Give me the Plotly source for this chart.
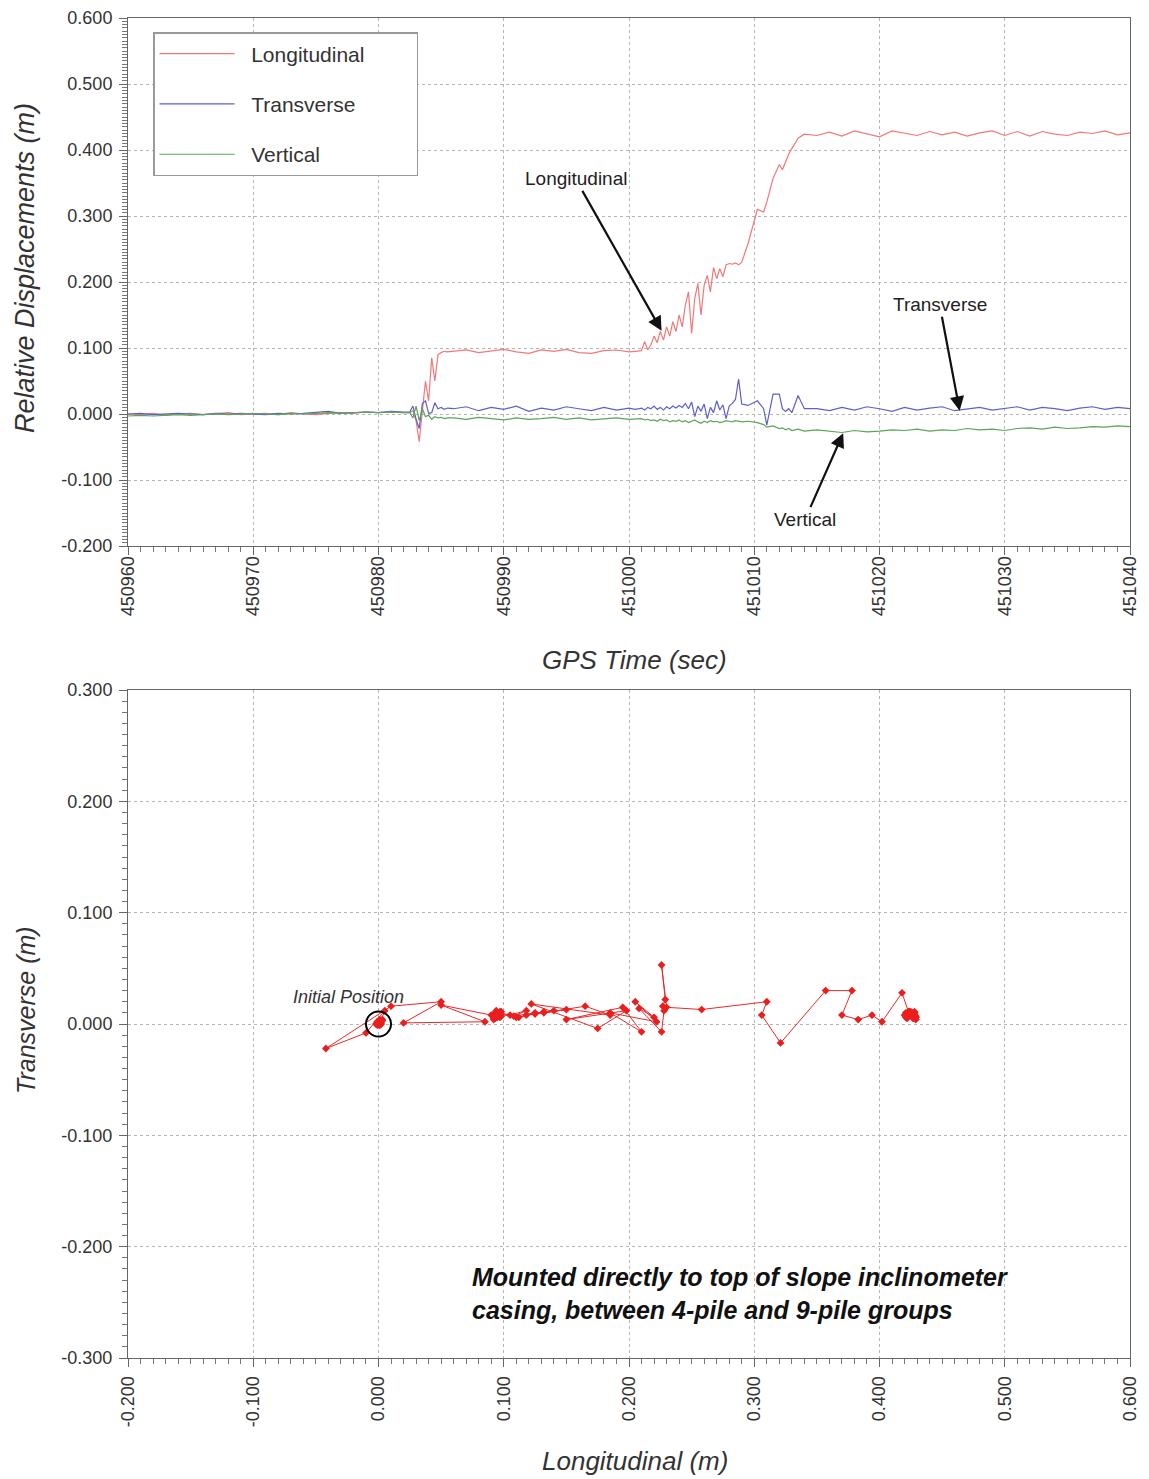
import plotly.graph_objects as go

# ---------------- data ----------------
gps_time = [
    450960, 450961, 450962, 450963, 450964, 450965, 450966, 450967, 450968, 450969,
    450970, 450971, 450972, 450973, 450974, 450975, 450976, 450977, 450978, 450979,
    450980, 450981, 450982,
    450982.5, 450982.75, 450983, 450983.25, 450983.5, 450983.75, 450984, 450984.25,
    450984.5, 450984.75, 450985, 450985.25, 450985.5,
    450986, 450987, 450988, 450989, 450990, 450991, 450992, 450993, 450994, 450995,
    450996, 450997, 450998, 450999, 451000,
    451000.5, 451001, 451001.25, 451001.5, 451001.75, 451002, 451002.25, 451002.5,
    451002.75, 451003, 451003.25, 451003.5, 451003.75, 451004, 451004.25, 451004.5,
    451004.75, 451005, 451005.25, 451005.5, 451005.75, 451006, 451006.25, 451006.5,
    451006.75, 451007, 451007.25, 451007.5, 451007.75, 451008, 451008.25, 451008.5,
    451008.75, 451009,
    451009.5, 451010.25, 451010.75, 451011, 451011.5, 451012, 451012.25, 451012.5,
    451012.75, 451013, 451013.5, 451014,
    451015, 451016, 451017, 451018, 451019, 451020, 451021, 451022, 451023, 451024,
    451025, 451026, 451027, 451028, 451029, 451030, 451031, 451032, 451033, 451034,
    451035, 451036, 451037, 451038, 451039, 451040,
]

longitudinal = [
    0.000, -0.001, 0.001, -0.002, 0.000, 0.001, -0.001, 0.000, 0.002, -0.001,
    0.000, 0.001, -0.001, 0.002, 0.000, -0.001, 0.001, 0.002, 0.001, 0.003,
    0.002, 0.003, 0.002,
    0.002, 0.005, -0.010, -0.042, 0.010, 0.050, 0.020, 0.085,
    0.050, 0.090, 0.093, 0.095, 0.094,
    0.095, 0.097, 0.093, 0.096, 0.098, 0.094, 0.092, 0.097, 0.095, 0.098,
    0.093, 0.092, 0.096, 0.097, 0.094,
    0.095, 0.096, 0.110, 0.097, 0.105, 0.118, 0.108, 0.125,
    0.112, 0.132, 0.118, 0.140, 0.125, 0.150, 0.132, 0.165,
    0.185, 0.122, 0.175, 0.198, 0.150, 0.195, 0.210, 0.185,
    0.222, 0.205, 0.220, 0.208, 0.226, 0.228, 0.227, 0.229,
    0.226, 0.230,
    0.258, 0.310, 0.306, 0.321, 0.357, 0.378, 0.370, 0.383,
    0.394, 0.402, 0.418, 0.424,
    0.422, 0.427, 0.421, 0.429, 0.424, 0.420, 0.429, 0.425, 0.422, 0.428,
    0.423, 0.427, 0.421, 0.426, 0.429, 0.422, 0.428, 0.421, 0.428, 0.424,
    0.422, 0.427, 0.425, 0.429, 0.423, 0.426,
]

transverse = [
    0.000, 0.001, -0.001, 0.000, 0.001, 0.000, -0.001, 0.001, 0.000, 0.001,
    0.000, -0.001, 0.001, 0.000, 0.001, 0.002, 0.004, 0.001, 0.002, 0.003,
    0.002, 0.004, 0.003,
    0.003, 0.012, -0.008, -0.022, 0.016, 0.020, 0.001, 0.002,
    0.017, 0.008, 0.010, 0.007, 0.009,
    0.008, 0.011, 0.005, 0.010, 0.007, 0.012, 0.004, 0.009, 0.006, 0.011,
    0.008, 0.005, 0.010, 0.006, 0.009,
    0.007, 0.009, 0.006, 0.010, 0.008, 0.012, 0.007, 0.010,
    0.006, 0.011, 0.008, 0.012, 0.009, 0.013, 0.010, 0.016,
    0.008, 0.018, -0.004, 0.012, 0.004, 0.015, -0.007, 0.010,
    0.002, 0.020, 0.006, 0.014, -0.007, 0.012, 0.016, 0.022,
    0.053, 0.015,
    0.013, 0.020, 0.008, -0.017, 0.030, 0.030, 0.008, 0.004,
    0.008, 0.002, 0.028, 0.008,
    0.008, 0.005, 0.010, 0.006, 0.011, 0.008, 0.004, 0.010, 0.006, 0.009,
    0.011, 0.005, 0.008, 0.010, 0.006, 0.009, 0.011, 0.006, 0.010, 0.008,
    0.005, 0.009, 0.011, 0.007, 0.010, 0.008,
]

vertical = [
    -0.003, -0.002, -0.003, -0.002, -0.001, -0.002, -0.001, 0.000, -0.001, 0.000,
    0.001, 0.000, -0.001, 0.001, 0.000, 0.001, 0.002, 0.001, 0.002, 0.003,
    0.002, 0.003, 0.002,
    0.002, -0.006, 0.012, -0.010, 0.008, -0.004, -0.002, -0.008,
    -0.004, -0.006, -0.005, -0.007, -0.006,
    -0.006, -0.008, -0.005, -0.007, -0.009, -0.006, -0.008, -0.007, -0.005, -0.008,
    -0.006, -0.009, -0.007, -0.006, -0.008,
    -0.008, -0.007, -0.009, -0.008, -0.010, -0.009, -0.011, -0.008,
    -0.010, -0.009, -0.012, -0.010, -0.011, -0.009, -0.012, -0.010,
    -0.013, -0.011, -0.009, -0.012, -0.014, -0.011, -0.013, -0.010,
    -0.012, -0.011, -0.013, -0.012, -0.010, -0.011, -0.012, -0.010,
    -0.011, -0.012,
    -0.011, -0.013, -0.016, -0.020, -0.018, -0.022, -0.021, -0.024,
    -0.022, -0.025, -0.023, -0.026,
    -0.024, -0.026, -0.028, -0.025, -0.027, -0.026, -0.024, -0.025, -0.023, -0.026,
    -0.024, -0.025, -0.022, -0.024, -0.023, -0.025, -0.022, -0.021, -0.023, -0.020,
    -0.022, -0.021, -0.019, -0.020, -0.018, -0.019,
]

series_names = ["Longitudinal", "Transverse", "Vertical"]
series_colors = ["rgb(242,120,120)", "rgb(95,95,200)", "rgb(90,165,90)"]

time_ticks = [450960, 450970, 450980, 450990, 451000, 451010, 451020, 451030, 451040]
disp_ticks = [0.6, 0.5, 0.4, 0.3, 0.2, 0.1, 0.0, -0.1, -0.2]
long_ticks = [-0.2, -0.1, 0.0, 0.1, 0.2, 0.3, 0.4, 0.5, 0.6]
trans_ticks = [0.3, 0.2, 0.1, 0.0, -0.1, -0.2, -0.3]


def fmt3(values):
    out = []
    for v in values:
        s = "%.3f" % v
        if s == "-0.000":
            s = "0.000"
        out.append(s)
    return out


# ---------------- figure ----------------
W, H = 1149, 1479
FONT = "Liberation Sans, Arial, sans-serif"
fig = go.Figure()

lead = "&nbsp;" * 2
pad = "&nbsp;" * 8
for name, vals, col in zip(series_names, [longitudinal, transverse, vertical], series_colors):
    fig.add_trace(go.Scatter(
        x=gps_time, y=vals, mode="lines", name=lead + name + pad, legendgroup=name,
        line=dict(color=col, width=1.2), xaxis="x", yaxis="y",
    ))

# trajectory plot
fig.add_trace(go.Scatter(
    x=longitudinal, y=transverse, mode="lines+markers", showlegend=False,
    line=dict(color="rgb(235,40,40)", width=1),
    marker=dict(symbol="diamond", size=6, color="rgb(235,30,30)"),
    xaxis="x2", yaxis="y2",
))
# initial position ring
fig.add_trace(go.Scatter(
    x=[longitudinal[0]], y=[transverse[0]], mode="markers", showlegend=False,
    marker=dict(symbol="circle-open", size=25, color="black", line=dict(width=2, color="black")),
    xaxis="x2", yaxis="y2",
))


def px_x(px):
    return px / W


def px_y(py):
    return 1 - py / H


axis_common = dict(
    showline=True, linecolor="#666", linewidth=1, mirror=True,
    ticks="outside", ticklen=8, tickcolor="#666",
    showgrid=True, gridcolor="#b5b5b5", griddash="dot", gridwidth=1,
    zeroline=False, automargin=False,
    tickfont=dict(family=FONT, size=18, color="#333"),
)
minor_common = dict(ticks="outside", ticklen=5, tickcolor="#777", showgrid=False)

fig.update_layout(
    width=W, height=H, margin=dict(l=0, r=0, t=0, b=0, autoexpand=False),
    paper_bgcolor="white", plot_bgcolor="white",
    font=dict(family=FONT, color="#222"),
    showlegend=True,
    legend=dict(
        x=px_x(153), y=px_y(32), xanchor="left", yanchor="top",
        bgcolor="white", bordercolor="#999", borderwidth=1.5,
        font=dict(family=FONT, size=21, color="#333"),
        tracegroupgap=20, itemwidth=75,
    ),
    xaxis=dict(
        axis_common, domain=[px_x(128), px_x(1130)], anchor="y",
        range=[450960, 451040], tickvals=time_ticks,
        ticktext=[str(t) for t in time_ticks], tickangle=-90, ticklabelstandoff=-6,
        minor=dict(minor_common, dtick=1),
    ),
    yaxis=dict(
        axis_common, domain=[px_y(546), px_y(18)], anchor="x",
        range=[-0.2, 0.6], tickvals=disp_ticks, ticktext=fmt3(disp_ticks),
        ticklabelstandoff=3,
        minor=dict(minor_common, dtick=0.005),
    ),
    xaxis2=dict(
        axis_common, domain=[px_x(128), px_x(1130)], anchor="y2",
        range=[-0.2, 0.6], tickvals=long_ticks, ticktext=fmt3(long_ticks), tickangle=-90,
        ticklabelstandoff=2,
        minor=dict(minor_common, dtick=0.01),
    ),
    yaxis2=dict(
        axis_common, domain=[px_y(1358), px_y(690)], anchor="x2",
        range=[-0.3, 0.3], tickvals=trans_ticks, ticktext=fmt3(trans_ticks),
        ticklabelstandoff=3,
        minor=dict(minor_common, dtick=0.01),
    ),
)

ann = []
centered = dict(xref="paper", yref="paper", xanchor="center", yanchor="middle", showarrow=False)
# axis titles
ann.append(dict(centered, text="<i>GPS Time (sec)</i>", x=px_x(634), y=px_y(660),
                font=dict(family=FONT, size=26, color="#333")))
ann.append(dict(centered, text="<i>Relative Displacements (m)</i>", x=px_x(25), y=px_y(268),
                textangle=-90, font=dict(family=FONT, size=27, color="#333")))
ann.append(dict(centered, text="<i>Longitudinal (m)</i>", x=px_x(635), y=px_y(1461),
                font=dict(family=FONT, size=26, color="#333")))
ann.append(dict(centered, text="<i>Transverse (m)</i>", x=px_x(26), y=px_y(1010),
                textangle=-90, font=dict(family=FONT, size=25, color="#333")))

# arrow labels on the time history plot
arrow_style = dict(showarrow=True, arrowhead=2, arrowsize=1.3, arrowwidth=2.2, arrowcolor="#111",
                   xref="x", yref="y", axref="pixel", ayref="pixel",
                   font=dict(family=FONT, size=19, color="#222"))
ann.append(dict(arrow_style, text="Longitudinal", x=451002.6, y=0.126, ax=-86, ay=-152))
ann.append(dict(arrow_style, text="Transverse", x=451026.4, y=0.005, ax=-20, ay=-106))
ann.append(dict(arrow_style, text="Vertical", x=451017.1, y=-0.029, ax=-38, ay=86))

# trajectory labels
ann.append(dict(text="<i>Initial Position</i>", x=-0.024, y=0.024, xref="x2", yref="y2",
                xanchor="center", yanchor="middle",
                showarrow=False, font=dict(family=FONT, size=18, color="#333")))
ann.append(dict(text="<b><i>Mounted directly to top of slope inclinometer<br>casing, between 4-pile and 9-pile groups</i></b>",
                x=px_x(470), y=px_y(1293), xref="paper", yref="paper", xanchor="left", yanchor="middle",
                align="left", showarrow=False, font=dict(family=FONT, size=25, color="#111")))

fig.update_layout(annotations=ann)
fig.write_html("out.html")
